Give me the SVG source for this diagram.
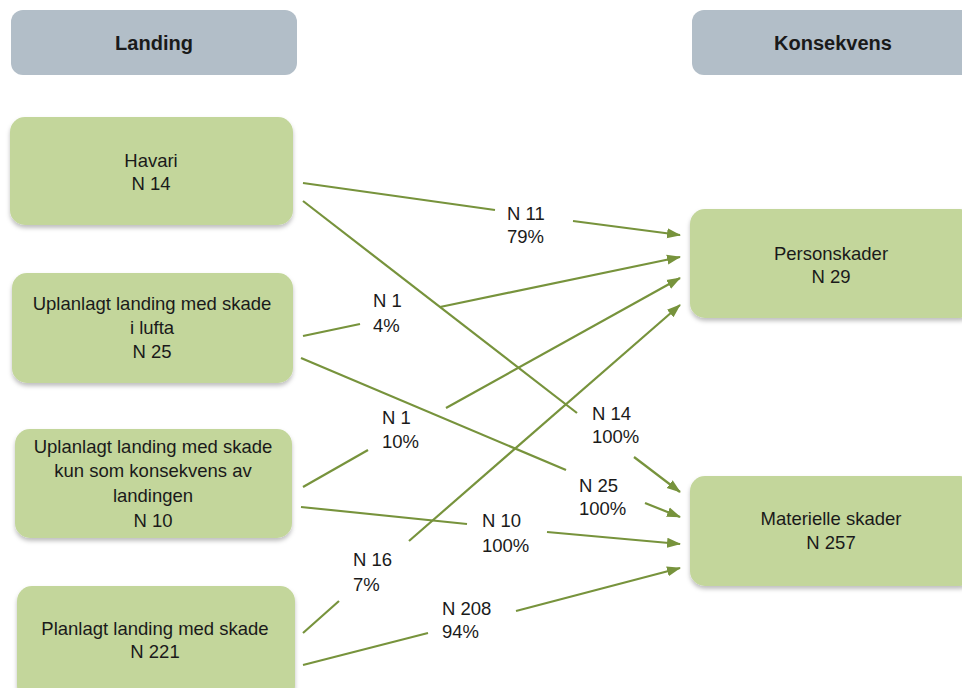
<svg xmlns="http://www.w3.org/2000/svg" width="962" height="688" viewBox="0 0 962 688">
<style>
.hdr{fill:#b2bec8}
.box{fill:#c3d69b;filter:url(#sh)}
text{font-family:"Liberation Sans",Arial,sans-serif;font-size:18.5px;fill:#1a1a1a}
.c{text-anchor:middle}
.b{font-weight:bold;font-size:20px}
.ln{stroke:#77933c;stroke-width:2.2;fill:none}
.ar{marker-end:url(#ah)}
</style>
<defs>
<filter id="sh" x="-10%" y="-10%" width="120%" height="130%">
<feDropShadow dx="0" dy="3" stdDeviation="2" flood-color="#000" flood-opacity="0.25"/>
</filter>
<marker id="ah" markerUnits="userSpaceOnUse" markerWidth="14" markerHeight="12" refX="13" refY="5" orient="auto" viewBox="0 0 14 10">
<path d="M0,0 L14,5 L0,10 Z" fill="#77933c"/>
</marker>
</defs>
<g id="hdr-landing">
<rect class="hdr" x="11" y="10" width="286" height="65" rx="12"/>
<text class="c b" x="154" y="50">Landing</text>
</g>
<g id="hdr-konsekvens">
<rect class="hdr" x="692" y="10" width="290" height="65" rx="12"/>
<text class="c b" x="833" y="50">Konsekvens</text>
</g>
<g id="n-havari">
<rect class="box" x="10" y="117" width="283" height="108" rx="15"/>
<text class="c" x="151" y="167">Havari</text>
<text class="c" x="151" y="190">N 14</text>
</g>
<g id="n-lufta">
<rect class="box" x="12" y="273" width="281" height="110" rx="15"/>
<text class="c" x="152" y="310">Uplanlagt landing med skade</text>
<text class="c" x="152" y="334">i lufta</text>
<text class="c" x="152" y="358">N 25</text>
</g>
<g id="n-kun">
<rect class="box" x="15" y="429" width="277" height="109" rx="15"/>
<text class="c" x="153" y="453">Uplanlagt landing med skade</text>
<text class="c" x="153" y="477">kun som konsekvens av</text>
<text class="c" x="153" y="502">landingen</text>
<text class="c" x="153" y="527">N 10</text>
</g>
<g id="n-planlagt">
<rect class="box" x="17" y="586" width="278" height="115" rx="15"/>
<text class="c" x="155" y="635">Planlagt landing med skade</text>
<text class="c" x="155" y="658">N 221</text>
</g>
<g id="n-person">
<rect class="box" x="690" y="209" width="285" height="109" rx="15"/>
<text class="c" x="831" y="260">Personskader</text>
<text class="c" x="831" y="283">N 29</text>
</g>
<g id="n-materielle">
<rect class="box" x="690" y="476" width="285" height="110" rx="15"/>
<text class="c" x="831" y="525">Materielle skader</text>
<text class="c" x="831" y="549">N 257</text>
</g>
<g id="connectors">
<line class="ln" x1="303" y1="183" x2="495" y2="210"/>
<line class="ln ar" x1="573" y1="221" x2="680" y2="235"/>
<line class="ln" x1="303" y1="201" x2="577" y2="413"/>
<line class="ln ar" x1="634" y1="457" x2="680" y2="492"/>
<line class="ln" x1="303" y1="336" x2="360" y2="324"/>
<line class="ln ar" x1="440" y1="307" x2="680" y2="257"/>
<line class="ln" x1="301" y1="358" x2="566" y2="470"/>
<line class="ln ar" x1="645" y1="503" x2="680" y2="517"/>
<line class="ln" x1="303" y1="487" x2="368" y2="450"/>
<line class="ln ar" x1="446" y1="408" x2="680" y2="278"/>
<line class="ln" x1="301" y1="507" x2="467" y2="524"/>
<line class="ln ar" x1="547" y1="532" x2="680" y2="544"/>
<line class="ln" x1="303" y1="633" x2="339" y2="601"/>
<line class="ln ar" x1="409" y1="541" x2="680" y2="305"/>
<line class="ln" x1="303" y1="665" x2="428" y2="633"/>
<line class="ln ar" x1="516" y1="611" x2="680" y2="568"/>
<text x="507" y="220">N 11</text>
<text x="507" y="243">79%</text>
<text x="592" y="420">N 14</text>
<text x="592" y="443">100%</text>
<text x="373" y="307">N 1</text>
<text x="373" y="332">4%</text>
<text x="579" y="492">N 25</text>
<text x="579" y="515">100%</text>
<text x="382" y="424">N 1</text>
<text x="382" y="448">10%</text>
<text x="482" y="527">N 10</text>
<text x="482" y="552">100%</text>
<text x="353" y="566">N 16</text>
<text x="353" y="591">7%</text>
<text x="442" y="615">N 208</text>
<text x="442" y="638">94%</text>
</g>
</svg>
